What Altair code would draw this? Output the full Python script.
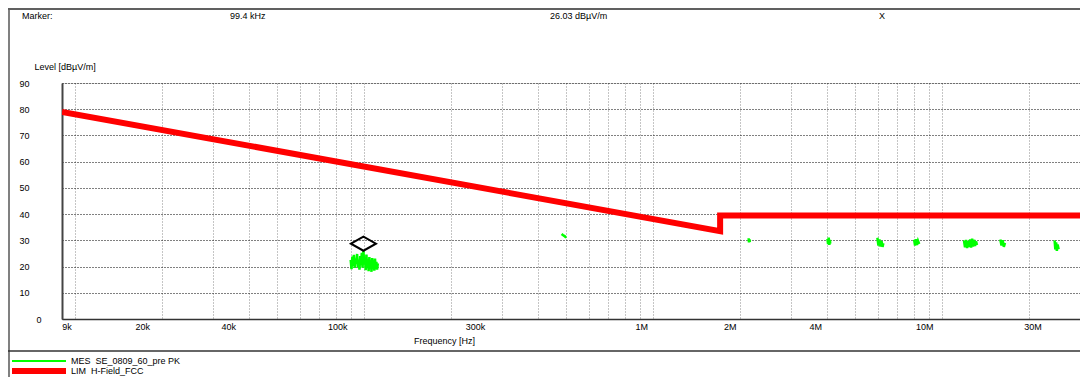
import altair as alt
import pandas as pd

# ---------------- data ----------------
# LIM  H-Field_FCC  (frequency in Hz, level in dBuV/m)
lim_freq_hz = [9000, 1705000, 1705000, 30000000]
lim_level = [79.0, 33.5, 39.5, 39.5]

# MES  SE_0809_60_pre PK  (visible peak fragments)
mes_freq_khz = [
    89.8, 90.4, 91.0, 91.5, 92.1, 92.7, 93.3, 93.9, 94.5, 95.1, 95.7, 96.3, 96.9,
    97.5, 98.1, 98.7, 99.4, 100.0, 100.6, 101.2, 101.8, 102.4, 103.0, 103.6, 104.2,
    104.8, 105.4, 106.0, 106.6, 107.2, 107.8, 108.4, 109.0, 109.6, 110.2, 110.8, 111.5,
    482, 487, 492, 497, 501,
    2140, 2146, 2152, 2158, 2163,
    4010, 4030, 4050, 4070, 4090, 4100,
    5970, 6020, 6070, 6120, 6170, 6220, 6260,
    8000, 8060, 8120, 8180, 8250, 8330,
    11900, 12000, 12100, 12200, 12300, 12400, 12500, 12600, 12700, 12800, 12900,
    13000, 13100, 13200,
    15900, 16050, 16200, 16350, 16500,
    24500, 24650, 24800, 24950, 25100, 25300,
]
mes_level = [
    22.5, 19.0, 23.8, 20.2, 24.5, 19.5, 23.0, 21.0, 24.8, 19.8, 22.6, 18.8, 24.0,
    20.5, 25.2, 19.6, 26.03, 20.8, 23.4, 18.6, 24.6, 19.4, 22.8, 18.2, 23.6,
    19.2, 22.4, 18.0, 23.2, 19.5, 22.0, 18.4, 23.0, 19.0, 21.8, 18.8, 21.2,
    32.4, 32.0, 31.7, 31.3, 31.5,
    30.8, 29.2, 30.4, 29.5, 30.0,
    30.6, 28.6, 31.0, 28.3, 30.2, 28.8,
    31.0, 28.0, 30.3, 27.6, 29.8, 27.5, 28.9,
    30.2, 28.0, 30.4, 28.2, 29.8, 28.6,
    30.0, 27.3, 30.2, 27.0, 29.8, 27.4, 30.4, 27.2, 30.6, 27.6, 30.2,
    27.8, 29.6, 28.2,
    30.3, 28.0, 30.0, 27.5, 29.0,
    30.0, 26.5, 29.2, 26.0, 28.4, 26.6,
]
mes_seg = ([1] * 37 + [2] * 5 + [3] * 5 + [4] * 6 + [5] * 7 + [6] * 6 + [7] * 14
           + [8] * 5 + [9] * 6)

# marker
marker_freq_hz = [99400]
marker_level = [26.03]

# axes
y_ticks = [0, 10, 20, 30, 40, 50, 60, 70, 80, 90]
grid_freqs = ([k * 10000 for k in range(1, 10)] + [k * 100000 for k in range(1, 10)]
              + [k * 1000000 for k in range(1, 10)] + [10000000, 20000000, 30000000])
label_freqs = [9000, 20000, 40000, 100000, 300000, 1000000, 2000000, 4000000,
               10000000, 30000000]
label_texts = ["9k", "20k", "40k", "100k", "300k", "1M", "2M", "4M", "10M", "30M"]

# ---------------- tables ----------------
lim_df = pd.DataFrame({"freq": lim_freq_hz, "level": lim_level,
                       "idx": list(range(len(lim_freq_hz)))})
mes_df = pd.DataFrame({"freq": [f * 1000 for f in mes_freq_khz], "level": mes_level,
                       "seg": mes_seg, "idx": list(range(len(mes_level)))})
mk_df = pd.DataFrame({"freq": marker_freq_hz, "level": marker_level})
one = pd.DataFrame({"a": [0]})

# ---------------- styling ----------------
FONT = "Liberation Sans"
W, H = 1018, 236
label_shift = [4.5, -20, -21, -27, -27, -12, -10.5, -12, -18, -47.5]

axis_vals = sorted(set(grid_freqs + label_freqs))
label_expr = " : ".join(f"datum.value == {v} ? '{t}'" for v, t in zip(label_freqs, label_texts)) + " : ''"
offset_cond = {"condition": [{"test": f"datum.value == {v}", "value": s}
                             for v, s in zip(label_freqs, label_shift)], "value": 0}

x_scale = alt.Scale(type="log", domain=[9000, 30000000], nice=False)
y_scale = alt.Scale(domain=[0, 90], nice=False, zero=False)

x_axis = alt.Axis(values=axis_vals, labelExpr=label_expr, labelOffset=offset_cond,
                  labelFlush=False, labelOverlap=False, ticks=False,
                  grid=True, gridColor="#8a8a8a", gridDash=[1, 2], gridWidth=1,
                  domainColor="#333333", domainWidth=1.5,
                  labelFont=FONT, labelFontSize=9, labelColor="black", labelPadding=3,
                  title="Frequency [Hz]", titleX=382, titleY=21, titleAlign="center",
                  titleBaseline="middle", titleFont=FONT, titleFontSize=9,
                  titleFontWeight="normal", titleColor="black")
y_axis = alt.Axis(values=y_ticks, ticks=False, grid=True, gridColor="black",
                  gridDash=[1, 2], gridWidth=1, domainColor="#444444", domainWidth=2,
                  labelFont=FONT, labelFontSize=9, labelColor="black", labelAlign="right",
                  labelBaseline="middle",
                  labelPadding={"condition": {"test": "datum.value == 0", "value": 21},
                                "value": 33},
                  title="Level [dBµV/m]", titleAngle=0, titleX=-28, titleY=-17,
                  titleAlign="left", titleBaseline="middle", titleFont=FONT,
                  titleFontSize=9, titleFontWeight="normal", titleColor="black")

X = alt.X("freq:Q", scale=x_scale, axis=x_axis)
Y = alt.Y("level:Q", scale=y_scale, axis=y_axis)

mes = alt.Chart(mes_df).mark_line(color="#00ff00", strokeWidth=2.5, clip=True).encode(
    x=X, y=Y, detail="seg:N", order="idx:Q")
lim = alt.Chart(lim_df).mark_line(color="#ff0000", strokeWidth=6, strokeJoin="miter",
                                  clip=True).encode(x=X, y=Y, order="idx:Q")
diamond = alt.Chart(mk_df).mark_point(shape="M-1,0L0,-0.56L1,0L0,0.56Z", size=625,
                                      filled=False, stroke="black", strokeWidth=2,
                                      yOffset=-7, opacity=1).encode(x=X, y=Y)


def txt(s, x, y, align="left"):
    return alt.Chart(one).mark_text(text=s, font=FONT, fontSize=9, color="black",
                                    align=align, baseline="middle").encode(
        x=alt.value(x), y=alt.value(y))


def rule(x1, x2, y1, y2, color, width):
    return alt.Chart(one).mark_rule(color=color, strokeWidth=width).encode(
        x=alt.value(x1), x2=alt.value(x2), y=alt.value(y1), y2=alt.value(y2))


frame = [
    rule(-53, -53, -75, 300, "#808080", 2),
    rule(-54, 1018, -74, -74, "#606060", 2),
    rule(-54, 1018, 268, 268, "#333333", 1.5),
    rule(-50, 4, 278, 278, "#00ff00", 2),
    rule(-50, 4, 288, 288, "#ff0000", 6),
]
texts = [
    txt("Marker:", -40, -67),
    txt("99.4 kHz", 168, -67),
    txt("26.03 dBµV/m", 488, -67),
    txt("X", 817, -67),
    txt("MES\u00a0 SE_0809_60_pre PK", 9, 278),
    txt("LIM\u00a0 H-Field_FCC", 9, 288),
]

chart = alt.layer(mes, lim, diamond, *frame, *texts).properties(
    width=W, height=H,
    autosize=alt.AutoSizeParams(type="none"),
    padding={"left": 54, "top": 75, "right": 0, "bottom": 58},
).configure_view(strokeWidth=0).configure(font=FONT, background="white")

chart.save("out.html", embed_options={"renderer": "svg", "actions": False})
